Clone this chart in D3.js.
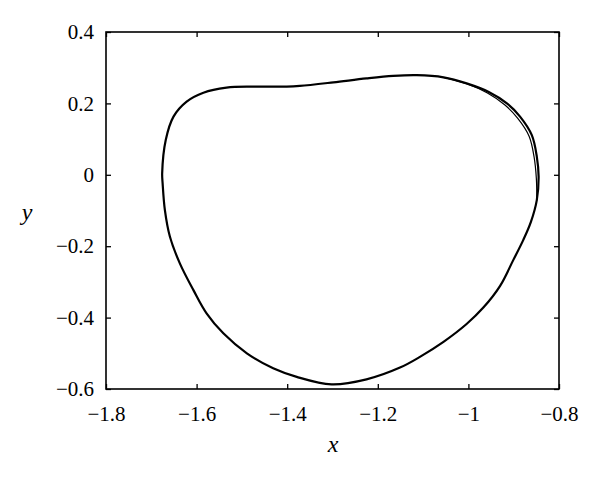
<!DOCTYPE html>
<html>
<head>
<meta charset="utf-8">
<script src="https://cdn.jsdelivr.net/npm/d3@7"></script>
<style>
  body { margin: 0; background: #fff; }
  .tick text { font-family: "Liberation Serif", serif; font-size: 21px; fill: #000; }
</style>
</head>
<body>
<svg class="chart"></svg>
<script>
// main limit cycle (clockwise from leftmost point)
var cycleX = [-1.676, -1.668, -1.651, -1.622, -1.585, -1.534, -1.475, -1.401, -1.372, -1.298,
              -1.225, -1.166, -1.114, -1.055, -1.004, -0.955, -0.915, -0.886, -0.860, -0.849,
              -0.845, -0.849, -0.862, -0.879, -0.901, -0.930, -0.967, -1.004, -1.055, -1.107,
              -1.151, -1.225, -1.302, -1.379, -1.431, -1.489, -1.541, -1.578, -1.607, -1.637,
              -1.659, -1.670, -1.675];
var cycleY = [0.004, 0.098, 0.163, 0.205, 0.230, 0.244, 0.247, 0.247, 0.249, 0.259,
              0.270, 0.277, 0.279, 0.273, 0.256, 0.232, 0.200, 0.163, 0.111, 0.051,
              -0.005, -0.071, -0.132, -0.183, -0.239, -0.311, -0.372, -0.418, -0.468, -0.510,
              -0.540, -0.573, -0.587, -0.566, -0.542, -0.500, -0.444, -0.388, -0.323, -0.248,
              -0.173, -0.099, -0.024];

// second strand on the right side, slightly inside the first
var strandX = [-1.055, -1.004, -0.958, -0.920, -0.891, -0.866, -0.855, -0.850, -0.849];
var strandY = [0.273, 0.255, 0.229, 0.196, 0.158, 0.108, 0.050, -0.010, -0.071];

var xTicks = [-1.8, -1.6, -1.4, -1.2, -1, -0.8];
var xTickLabels = ["\u22121.8", "\u22121.6", "\u22121.4", "\u22121.2", "\u22121", "\u22120.8"];
var yTicks = [-0.6, -0.4, -0.2, 0, 0.2, 0.4];
var yTickLabels = ["\u22120.6", "\u22120.4", "\u22120.2", "0", "0.2", "0.4"];

var W = 600, H = 480;
var mLeft = 106, mRight = 559, mTop = 32, mBottom = 389;

var x = d3.scaleLinear().domain([-1.8, -0.8]).range([mLeft, mRight]);
var y = d3.scaleLinear().domain([-0.6, 0.4]).range([mBottom, mTop]);

var svg = d3.select(".chart").attr("width", W).attr("height", H);

function lab(ticks, labels) {
	return function(d) { return labels[ticks.indexOf(d)]; };
}

// axes, ticks pointing inward
svg.append("g").attr("transform", "translate(0," + mBottom + ")")
	.call(d3.axisBottom(x).tickValues(xTicks).tickFormat(lab(xTicks, xTickLabels))
		.tickSizeInner(-5).tickSizeOuter(0).tickPadding(17));
svg.append("g").attr("transform", "translate(0," + mTop + ")")
	.call(d3.axisTop(x).tickValues(xTicks).tickFormat("")
		.tickSizeInner(-5).tickSizeOuter(0));
svg.append("g").attr("transform", "translate(" + mLeft + ",0)")
	.call(d3.axisLeft(y).tickValues(yTicks).tickFormat(lab(yTicks, yTickLabels))
		.tickSizeInner(-5).tickSizeOuter(0).tickPadding(12));
svg.append("g").attr("transform", "translate(" + mRight + ",0)")
	.call(d3.axisRight(y).tickValues(yTicks).tickFormat("")
		.tickSizeInner(-5).tickSizeOuter(0));

svg.selectAll(".domain").remove();
svg.selectAll(".tick line").attr("stroke", "#000").attr("stroke-width", 1.3);

svg.append("rect")
	.attr("x", mLeft).attr("y", mTop)
	.attr("width", mRight - mLeft).attr("height", mBottom - mTop)
	.attr("fill", "none").attr("stroke", "#000").attr("stroke-width", 1.6);

var cycle = cycleX.map(function(d, i) { return [d, cycleY[i]]; });
var strand = strandX.map(function(d, i) { return [d, strandY[i]]; });

svg.append("path")
	.datum(cycle)
	.attr("fill", "none").attr("stroke", "#000").attr("stroke-width", 2.2)
	.attr("d", d3.line().x(function(d) { return x(d[0]); }).y(function(d) { return y(d[1]); })
		.curve(d3.curveCatmullRomClosed.alpha(0.5)));

svg.append("path")
	.datum(strand)
	.attr("fill", "none").attr("stroke", "#000").attr("stroke-width", 1.2)
	.attr("d", d3.line().x(function(d) { return x(d[0]); }).y(function(d) { return y(d[1]); })
		.curve(d3.curveCatmullRom.alpha(0.5)));

// axis titles
svg.append("text")
	.attr("x", 333).attr("y", 452)
	.attr("text-anchor", "middle")
	.style("font-family", "Liberation Serif, serif").style("font-style", "italic").style("font-size", "24px")
	.text("x");
svg.append("text")
	.attr("x", 27).attr("y", 220)
	.attr("text-anchor", "middle")
	.style("font-family", "Liberation Serif, serif").style("font-style", "italic").style("font-size", "24px")
	.text("y");
</script>
</body>
</html>
